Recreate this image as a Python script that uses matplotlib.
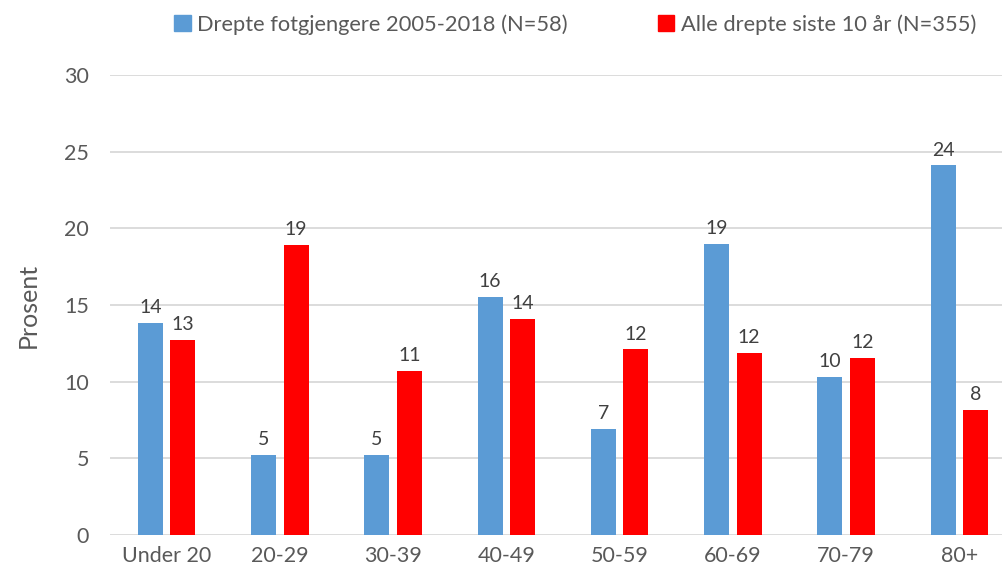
import numpy as np
import matplotlib
matplotlib.use('Agg')
import matplotlib.pyplot as plt
from matplotlib.patches import Patch

categories = ['Under 20', '20-29', '30-39', '40-49', '50-59', '60-69', '70-79', '80+']
fotgjengere = [13.8, 5.2, 5.2, 15.5, 6.9, 19.0, 10.3, 24.1]
alle_drepte = [12.7, 18.9, 10.7, 14.1, 12.1, 11.9, 11.55, 8.15]
series_names = ['Drepte fotgjengere 2005-2018 (N=58)', 'Alle drepte siste 10 år (N=355)']
yticks = [0, 5, 10, 15, 20, 25, 30]

plt.rcParams['font.family'] = ['Lato', 'DejaVu Sans']
txt = '#595959'
blue = '#5B9BD5'
red = '#FF0000'

fig = plt.figure(figsize=(10.02, 5.77), dpi=100)
ax = fig.add_axes([110/1002, 42/577, 906/1002, 460/577])

x = np.arange(len(categories))
w = 0.22
b1 = ax.bar(x - 0.143, fotgjengere, w, color=blue)
b2 = ax.bar(x + 0.143, alle_drepte, w, color=red)

for bars, vals in [(b1, fotgjengere), (b2, alle_drepte)]:
    for r, v in zip(bars, vals):
        ax.annotate(f'{v:.0f}', (r.get_x() + r.get_width()/2, v),
                    xytext=(0, 5), textcoords='offset points',
                    ha='center', va='bottom', fontsize=14, color='#404040')

ax.set_xlim(-0.5, len(categories) - 0.5)
ax.set_ylim(0, 30)
ax.set_yticks(yticks)
ax.set_xticks(x)
ax.set_xticklabels(categories)
ax.tick_params(length=0, labelsize=15.5, colors=txt)
ax.tick_params(axis='y', pad=15)
ax.tick_params(axis='x', pad=8)
ax.grid(axis='y', color='#D9D9D9', linewidth=1.3)
ax.set_axisbelow(True)
for s in ax.spines.values():
    s.set_visible(False)
ax.set_ylabel('Prosent', fontsize=18, color=txt, labelpad=18)

handles = [Patch(color=blue), Patch(color=red)]
fig.legend(handles, series_names, loc='upper center', bbox_to_anchor=(0.574, 1.01),
           ncol=2, frameon=False, fontsize=15.75, labelcolor=txt,
           handlelength=0.75, handleheight=0.75, handletextpad=0.3, columnspacing=4.1)

fig.savefig('out.png', dpi=100)
